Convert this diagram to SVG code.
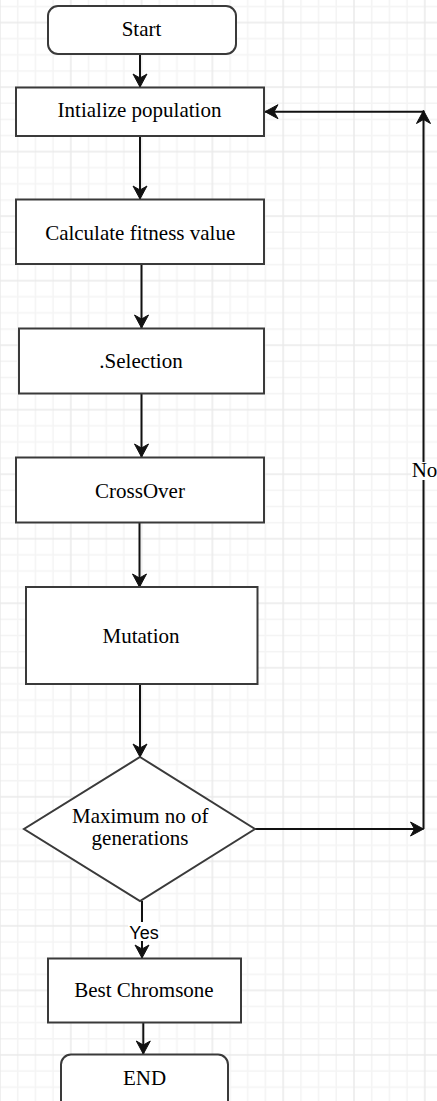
<svg xmlns="http://www.w3.org/2000/svg" width="437" height="1101" viewBox="0 0 437 1101">
  <style>
    .box { fill: #ffffff; stroke: #3a3a3a; stroke-width: 2; }
    .lbl { font-family: 'Liberation Serif', 'Times New Roman', serif; font-size: 21px; fill: #000000; text-anchor: middle; }
    .elbl { font-family: 'Liberation Sans', Arial, sans-serif; font-size: 18px; fill: #000000; text-anchor: middle; }
    .edge { fill: none; stroke: #111111; stroke-width: 2; }
    .gmin { stroke: #f4f4f4; stroke-width: 1.5; }
    .gmaj { stroke: #eaeaea; stroke-width: 1.5; }
  </style>
  <defs>
    <!-- background grid: four minor cells per major cell -->
    <pattern id="grid" patternUnits="userSpaceOnUse" x="-2" y="20.6" width="70.8" height="64.52">
      <path class="gmin" d="M19.7,0V64.52M37.4,0V64.52M55.1,0V64.52M0,18.13H70.8M0,34.26H70.8M0,50.39H70.8"/>
      <path class="gmaj" d="M2,0V64.52M0,2H70.8"/>
    </pattern>
    <marker id="arrow" markerUnits="userSpaceOnUse" markerWidth="16" markerHeight="16" refX="14" refY="8" orient="auto" overflow="visible">
      <path d="M14,8 L1,1 L5,8 L1,15 Z" fill="#111111" stroke="#111111" stroke-width="1" stroke-linejoin="miter"/>
    </marker>
  </defs>

  <rect width="437" height="1101" fill="#ffffff"/>
  <rect width="437" height="1101" fill="url(#grid)"/>

  <g id="connectors">
    <path class="edge" d="M140,54 V87" marker-end="url(#arrow)"/>
    <path class="edge" d="M140,136 V199" marker-end="url(#arrow)"/>
    <path class="edge" d="M141.5,264 V328" marker-end="url(#arrow)"/>
    <path class="edge" d="M141.5,393 V457" marker-end="url(#arrow)"/>
    <path class="edge" d="M139.5,523 V587" marker-end="url(#arrow)"/>
    <path class="edge" d="M140,684 V757" marker-end="url(#arrow)"/>
    <!-- "No" branch loops back to the population step -->
    <path class="edge" d="M255,829 H423.5" marker-end="url(#arrow)"/>
    <path class="edge" d="M423.5,829 V110.5" marker-end="url(#arrow)"/>
    <path class="edge" d="M423.5,111.7 H265" marker-end="url(#arrow)"/>
    <rect x="411" y="462" width="26" height="18" fill="#ffffff"/>
    <text class="lbl" x="424.5" y="477">No</text>
    <!-- "Yes" branch -->
    <path class="edge" d="M142,901 V958" marker-end="url(#arrow)"/>
    <rect x="128" y="922" width="32" height="19" fill="#ffffff"/>
    <text class="elbl" x="144" y="938.5">Yes</text>
    <path class="edge" d="M143.3,1023 V1054" marker-end="url(#arrow)"/>
  </g>

  <g id="start">
    <rect class="box" x="48" y="6" width="188" height="48" rx="10"/>
    <text class="lbl" x="141.5" y="36">Start</text>
  </g>
  <g id="init-population">
    <rect class="box" x="16" y="87.5" width="248" height="48.5"/>
    <text class="lbl" x="139.5" y="117">Intialize population</text>
  </g>
  <g id="fitness">
    <rect class="box" x="16" y="199.5" width="248" height="64.5"/>
    <text class="lbl" x="140.2" y="240">Calculate fitness value</text>
  </g>
  <g id="selection">
    <rect class="box" x="19" y="328.5" width="245" height="65"/>
    <text class="lbl" x="141" y="368">.Selection</text>
  </g>
  <g id="crossover">
    <rect class="box" x="16" y="457.5" width="248" height="65"/>
    <text class="lbl" x="140" y="498">CrossOver</text>
  </g>
  <g id="mutation">
    <rect class="box" x="26" y="587" width="231.5" height="97"/>
    <text class="lbl" x="141" y="642.5">Mutation</text>
  </g>
  <g id="max-generations">
    <polygon class="box" points="140,757 255,829 140,901 24,829"/>
    <text class="lbl" x="140.3" y="823">Maximum no of</text>
    <text class="lbl" x="140" y="845">generations</text>
  </g>
  <g id="best-chromosome">
    <rect class="box" x="48" y="958.5" width="193" height="64"/>
    <text class="lbl" x="144" y="997">Best Chromsone</text>
  </g>
  <g id="end">
    <rect class="box" x="61" y="1054.5" width="167" height="60" rx="10"/>
    <text class="lbl" x="144.5" y="1085">END</text>
  </g>
</svg>
